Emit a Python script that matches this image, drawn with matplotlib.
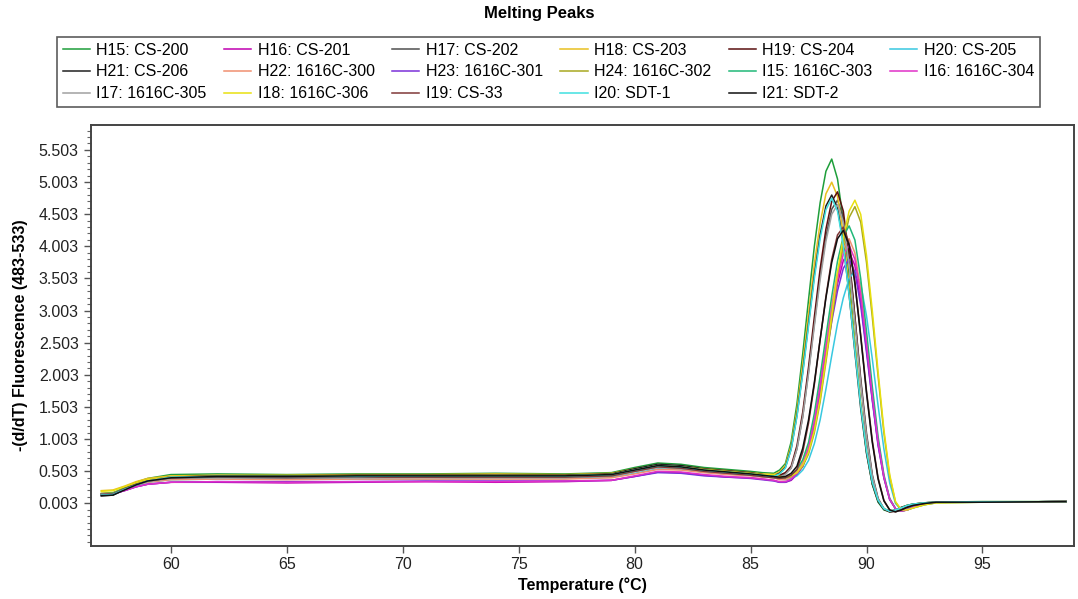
import matplotlib
matplotlib.use("Agg")
import matplotlib.pyplot as plt
from matplotlib.ticker import FixedLocator, MultipleLocator, FormatStrFormatter

plt.rcParams['font.family'] = ['Liberation Sans', 'DejaVu Sans']

# temperature grid (deg C) shared by all samples
temp = [57.0, 57.5, 58.0, 58.5, 59.0, 60.0, 62.0, 65.0, 68.0, 71.0, 74.0, 77.0, 79.0, 80.0, 81.0, 82.0, 83.0, 84.0, 85.0, 85.5,
        86.0, 86.25, 86.5, 86.75, 87.0, 87.25, 87.5, 87.75, 88.0, 88.25, 88.5, 88.75, 89.0, 89.25, 89.5, 89.75,
        90.0, 90.25, 90.5, 90.75, 91.0, 91.25, 91.5, 91.75, 92.0,
        92.5, 93.0, 95.0, 98.6]

# -(d/dT) fluorescence
H15 = [0.15, 0.16, 0.25, 0.33, 0.39, 0.45, 0.46, 0.45, 0.46, 0.46, 0.47, 0.46, 0.48, 0.56, 0.63, 0.61, 0.56, 0.53, 0.5, 0.48,
       0.47, 0.52, 0.62, 0.96, 1.55, 2.33, 3.17, 4.0, 4.68, 5.17, 5.36, 5.05, 4.4, 3.5, 2.5, 1.55, 0.8, 0.3, 0.02, -0.1,
       -0.13, -0.11, -0.07, -0.03, -0.01, 0.01, 0.02, 0.02, 0.03]
H16 = [0.14, 0.15, 0.2, 0.26, 0.3, 0.33, 0.33, 0.32, 0.33, 0.34, 0.33, 0.34, 0.36, 0.42, 0.49, 0.48, 0.44, 0.41, 0.4, 0.38,
       0.36, 0.33, 0.33, 0.36, 0.45, 0.58, 0.83, 1.23, 1.77, 2.35, 2.92, 3.42, 3.78, 3.92, 3.7, 3.15, 2.4, 1.62, 0.92, 0.4,
       0.06, -0.08, -0.12, -0.1, -0.06, -0.01, 0.02, 0.02, 0.03]
H17 = [0.13, 0.14, 0.22, 0.3, 0.35, 0.4, 0.42, 0.41, 0.42, 0.42, 0.43, 0.42, 0.44, 0.51, 0.58, 0.56, 0.51, 0.48, 0.45, 0.43,
       0.42, 0.42, 0.46, 0.55, 0.85, 1.35, 2.05, 2.8, 3.55, 4.15, 4.58, 4.72, 4.45, 3.8, 2.9, 1.95, 1.1, 0.45, 0.08, -0.08,
       -0.13, -0.12, -0.08, -0.04, -0.02, 0.01, 0.02, 0.02, 0.03]
H18 = [0.2, 0.21, 0.27, 0.34, 0.39, 0.43, 0.44, 0.44, 0.45, 0.45, 0.46, 0.45, 0.47, 0.54, 0.6, 0.58, 0.54, 0.51, 0.48, 0.46,
       0.45, 0.49, 0.59, 0.9, 1.45, 2.18, 2.95, 3.73, 4.36, 4.82, 5.0, 4.78, 4.2, 3.38, 2.45, 1.55, 0.82, 0.32, 0.04, -0.08,
       -0.12, -0.1, -0.06, -0.03, -0.01, 0.01, 0.02, 0.03, 0.03]
H19 = [0.14, 0.15, 0.23, 0.31, 0.36, 0.41, 0.42, 0.42, 0.43, 0.43, 0.43, 0.43, 0.45, 0.53, 0.6, 0.58, 0.53, 0.5, 0.47, 0.45,
       0.43, 0.44, 0.48, 0.58, 0.9, 1.42, 2.12, 2.9, 3.65, 4.27, 4.7, 4.85, 4.55, 3.85, 2.9, 1.9, 1.05, 0.42, 0.06, -0.09,
       -0.13, -0.12, -0.08, -0.04, -0.02, 0.0, 0.02, 0.02, 0.03]
H20 = [0.13, 0.14, 0.21, 0.28, 0.33, 0.37, 0.38, 0.38, 0.38, 0.38, 0.39, 0.39, 0.41, 0.47, 0.54, 0.53, 0.49, 0.46, 0.44, 0.42,
       0.41, 0.38, 0.37, 0.39, 0.43, 0.52, 0.67, 0.93, 1.3, 1.78, 2.3, 2.8, 3.2, 3.5, 3.62, 3.42, 2.92, 2.25, 1.52, 0.85,
       0.32, 0.0, -0.1, -0.1, -0.07, -0.02, 0.01, 0.02, 0.03]
H21 = [0.12, 0.13, 0.22, 0.3, 0.36, 0.41, 0.43, 0.43, 0.44, 0.44, 0.44, 0.44, 0.46, 0.54, 0.61, 0.59, 0.54, 0.51, 0.48, 0.45,
       0.43, 0.47, 0.56, 0.85, 1.37, 2.05, 2.8, 3.55, 4.18, 4.63, 4.8, 4.6, 4.05, 3.25, 2.35, 1.48, 0.78, 0.3, 0.03, -0.09,
       -0.12, -0.1, -0.06, -0.03, -0.01, 0.01, 0.02, 0.02, 0.03]
H22 = [0.15, 0.16, 0.22, 0.29, 0.33, 0.37, 0.38, 0.37, 0.38, 0.38, 0.38, 0.38, 0.4, 0.46, 0.53, 0.52, 0.48, 0.45, 0.43, 0.41,
       0.4, 0.37, 0.37, 0.41, 0.5, 0.64, 0.9, 1.32, 1.88, 2.48, 3.08, 3.6, 3.97, 4.12, 3.9, 3.33, 2.55, 1.72, 0.98, 0.42,
       0.07, -0.08, -0.12, -0.1, -0.06, -0.01, 0.02, 0.02, 0.03]
H23 = [0.14, 0.15, 0.2, 0.26, 0.3, 0.33, 0.34, 0.34, 0.34, 0.35, 0.35, 0.35, 0.36, 0.42, 0.48, 0.47, 0.43, 0.41, 0.39, 0.37,
       0.35, 0.33, 0.33, 0.37, 0.46, 0.58, 0.82, 1.2, 1.72, 2.28, 2.83, 3.31, 3.66, 3.8, 3.6, 3.08, 2.35, 1.6, 0.9, 0.4,
       0.06, -0.08, -0.11, -0.09, -0.05, -0.01, 0.02, 0.02, 0.03]
H24 = [0.16, 0.17, 0.23, 0.3, 0.35, 0.4, 0.41, 0.41, 0.41, 0.42, 0.42, 0.42, 0.43, 0.5, 0.57, 0.55, 0.51, 0.48, 0.46, 0.44,
       0.44, 0.41, 0.4, 0.42, 0.47, 0.58, 0.77, 1.1, 1.58, 2.2, 2.85, 3.5, 4.05, 4.45, 4.62, 4.38, 3.75, 2.9, 1.98, 1.1,
       0.42, 0.02, -0.1, -0.1, -0.07, -0.02, 0.01, 0.02, 0.03]
I15 = [0.15, 0.16, 0.23, 0.3, 0.35, 0.4, 0.41, 0.41, 0.42, 0.41, 0.42, 0.42, 0.44, 0.51, 0.58, 0.56, 0.51, 0.48, 0.46, 0.44,
       0.43, 0.4, 0.4, 0.44, 0.53, 0.68, 0.95, 1.4, 1.98, 2.6, 3.22, 3.77, 4.16, 4.32, 4.1, 3.5, 2.68, 1.82, 1.04, 0.45,
       0.08, -0.08, -0.12, -0.1, -0.06, -0.01, 0.02, 0.02, 0.03]
I16 = [0.14, 0.15, 0.2, 0.26, 0.3, 0.33, 0.34, 0.33, 0.34, 0.34, 0.34, 0.35, 0.36, 0.43, 0.5, 0.49, 0.45, 0.42, 0.4, 0.38,
       0.36, 0.34, 0.34, 0.38, 0.47, 0.6, 0.86, 1.27, 1.82, 2.42, 3.0, 3.5, 3.88, 4.02, 3.8, 3.25, 2.48, 1.68, 0.96, 0.42,
       0.07, -0.08, -0.12, -0.1, -0.06, -0.01, 0.02, 0.02, 0.03]
I17 = [0.14, 0.15, 0.22, 0.29, 0.34, 0.39, 0.4, 0.4, 0.4, 0.41, 0.41, 0.41, 0.43, 0.5, 0.56, 0.55, 0.5, 0.47, 0.44, 0.42,
       0.4, 0.41, 0.45, 0.55, 0.85, 1.35, 2.02, 2.76, 3.48, 4.08, 4.5, 4.65, 4.38, 3.72, 2.82, 1.88, 1.05, 0.43, 0.07, -0.08,
       -0.12, -0.11, -0.07, -0.04, -0.02, 0.01, 0.02, 0.02, 0.03]
I18 = [0.19, 0.2, 0.26, 0.32, 0.37, 0.41, 0.42, 0.42, 0.43, 0.43, 0.43, 0.43, 0.45, 0.52, 0.59, 0.57, 0.53, 0.5, 0.47, 0.45,
       0.45, 0.42, 0.41, 0.43, 0.48, 0.6, 0.8, 1.14, 1.63, 2.26, 2.93, 3.6, 4.15, 4.55, 4.72, 4.5, 3.86, 3.0, 2.05, 1.15,
       0.45, 0.03, -0.1, -0.1, -0.07, -0.02, 0.01, 0.02, 0.03]
I19 = [0.14, 0.15, 0.23, 0.3, 0.35, 0.4, 0.41, 0.4, 0.41, 0.41, 0.41, 0.41, 0.43, 0.5, 0.57, 0.55, 0.5, 0.47, 0.44, 0.42,
       0.4, 0.39, 0.4, 0.44, 0.53, 0.8, 1.25, 1.85, 2.55, 3.22, 3.8, 4.18, 4.3, 4.05, 3.45, 2.62, 1.75, 0.98, 0.4, 0.05,
       -0.1, -0.13, -0.1, -0.06, -0.03, 0.0, 0.02, 0.02, 0.03]
I20 = [0.13, 0.14, 0.22, 0.29, 0.35, 0.41, 0.42, 0.42, 0.42, 0.43, 0.43, 0.43, 0.45, 0.52, 0.59, 0.57, 0.52, 0.49, 0.46, 0.44,
       0.42, 0.46, 0.55, 0.84, 1.35, 2.02, 2.76, 3.5, 4.12, 4.57, 4.75, 4.55, 4.02, 3.25, 2.38, 1.52, 0.82, 0.33, 0.05, -0.08,
       -0.12, -0.1, -0.07, -0.03, -0.01, 0.01, 0.02, 0.03, 0.03]
I21 = [0.12, 0.13, 0.21, 0.29, 0.35, 0.4, 0.42, 0.42, 0.43, 0.43, 0.43, 0.43, 0.45, 0.52, 0.59, 0.57, 0.52, 0.49, 0.46, 0.44,
       0.42, 0.41, 0.42, 0.47, 0.58, 0.86, 1.3, 1.88, 2.55, 3.2, 3.75, 4.12, 4.25, 4.02, 3.42, 2.6, 1.72, 0.95, 0.38, 0.04,
       -0.1, -0.13, -0.1, -0.06, -0.03, 0.0, 0.02, 0.02, 0.03]

labels = ["H15: CS-200", "H16: CS-201", "H17: CS-202", "H18: CS-203", "H19: CS-204", "H20: CS-205",
          "H21: CS-206", "H22: 1616C-300", "H23: 1616C-301", "H24: 1616C-302", "I15: 1616C-303", "I16: 1616C-304",
          "I17: 1616C-305", "I18: 1616C-306", "I19: CS-33", "I20: SDT-1", "I21: SDT-2"]
series = [H15, H16, H17, H18, H19, H20, H21, H22, H23, H24, I15, I16, I17, I18, I19, I20, I21]
colors = ["#1e9e3a", "#c000b0", "#505050", "#e8c020", "#5a1010", "#38c8e0",
          "#202020", "#f09070", "#7a30d8", "#a8a820", "#20b878", "#e030c8",
          "#a0a0a0", "#e8e010", "#803838", "#40e0e0", "#101010"]

y_ticks = [0.003, 0.503, 1.003, 1.503, 2.003, 2.503, 3.003, 3.503, 4.003, 4.503, 5.003, 5.503]
x_ticks = [60, 65, 70, 75, 80, 85, 90, 95]

fig = plt.figure(figsize=(10.78, 5.99), dpi=100)
ax = fig.add_axes([0.0841, 0.0893, 0.912, 0.702])

handles = {}
for lab, vals, col in zip(labels, series, colors):
    ln, = ax.plot(temp, vals, color=col, lw=1.1)
    handles[lab] = ln

ax.set_xlim(56.54, 98.94)
ax.set_ylim(-0.654, 5.89)
ax.xaxis.set_major_locator(FixedLocator(x_ticks))
ax.yaxis.set_major_locator(FixedLocator(y_ticks))
ax.yaxis.set_major_formatter(FormatStrFormatter('%.3f'))
ax.yaxis.set_minor_locator(MultipleLocator(0.1, offset=0.003))
ax.tick_params(axis='both', which='major', labelsize=11.5, length=5, width=1, color='#555555', labelcolor='#222222')
ax.tick_params(axis='y', which='minor', length=3, width=0.8, color='#666666')
for sp in ax.spines.values():
    sp.set_color('#444444')
    sp.set_linewidth(1.4)

ax.set_xlabel("Temperature (\u00b0C)", fontsize=11.5, fontweight='bold', labelpad=4)
ax.set_ylabel("-(d/dT) Fluorescence (483-533)", fontsize=11.5, fontweight='bold', labelpad=8)
fig.text(0.5, 0.977, "Melting Peaks", ha='center', va='center', fontsize=12, fontweight='bold')

# legend is filled row by row in the original, matplotlib fills columns
order = ["H15: CS-200", "H21: CS-206", "I17: 1616C-305",
         "H16: CS-201", "H22: 1616C-300", "I18: 1616C-306",
         "H17: CS-202", "H23: 1616C-301", "I19: CS-33",
         "H18: CS-203", "H24: 1616C-302", "I20: SDT-1",
         "H19: CS-204", "I15: 1616C-303", "I21: SDT-2",
         "H20: CS-205", "I16: 1616C-304"]
leg = fig.legend([handles[k] for k in order], order, ncol=6, loc='upper left',
                 bbox_to_anchor=(0.053, 0.938), fontsize=11.5, frameon=True, fancybox=False,
                 handlelength=1.7, handletextpad=0.4, columnspacing=1.1, labelspacing=0.42,
                 borderpad=0.35, borderaxespad=0)
leg.get_frame().set_edgecolor('#333333')
leg.get_frame().set_linewidth(1.2)

fig.savefig("out.png", dpi=100)
